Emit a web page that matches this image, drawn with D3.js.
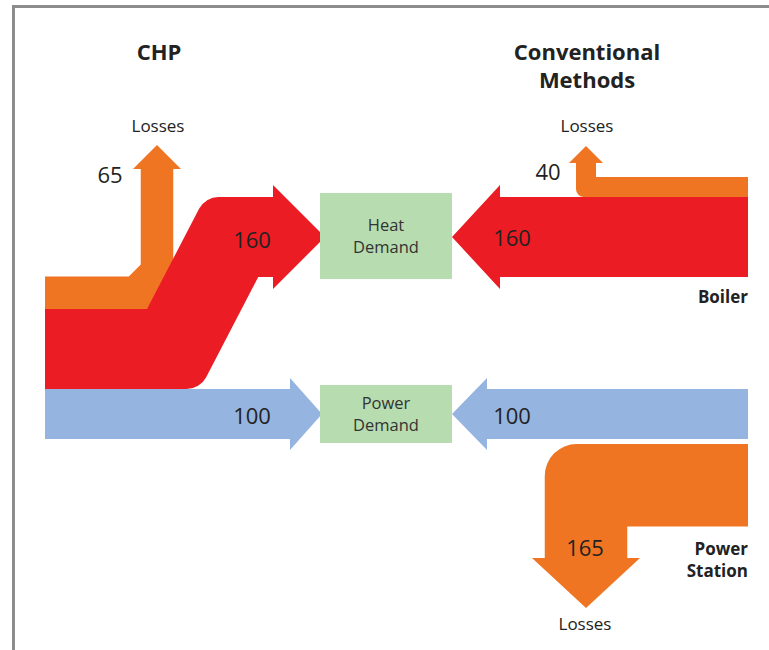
<!DOCTYPE html>
<html>
<head>
<meta charset="utf-8">
<script src="https://cdn.jsdelivr.net/npm/d3@7"></script>
<style>
body { margin: 0; background: #fff; }
svg text { font-family: 'Open Sans', Lato, sans-serif; }
</style>
</head>
<body>
<div id="graph"></div>
<script>
var titles = ['CHP', 'Conventional Methods']
var demandLabels = ['Heat Demand', 'Power Demand']
var chpLabels = ['Losses', 'Heat', 'Power']
var chpValues = [65, 160, 100]
var convLabels = ['Losses', 'Boiler', 'Power', 'Power Station']
var convValues = [40, 160, 100, 165]

var colors = { loss: '#f07522', heat: '#ec1c24', power: '#95b4df', box: '#b6dcb0' }

var svg = d3.select('#graph').append('svg')
	.attr('width', 769)
	.attr('height', 650)

// flow value -> band thickness
var w = d3.scaleLinear().domain([0, 160]).range([0, 80])

// frame
svg.append('path')
	.attr('d', 'M13.5,650V6.5H769')
	.attr('fill', 'none')
	.attr('stroke', '#8c8c8c')
	.attr('stroke-width', 3)

// polygon with optional rounded corners: [x, y, r]
function shape(pts) {
	var p = d3.path()
	p.moveTo(pts[0][0], pts[0][1])
	for (var i = 1; i < pts.length; i++) {
		var c = pts[i], n = pts[(i + 1) % pts.length]
		if (c[2]) p.arcTo(c[0], c[1], n[0], n[1], c[2])
		else p.lineTo(c[0], c[1])
	}
	p.closePath()
	return p.toString()
}

var x0 = 45, xR = 748
var heatTop = 197
var powerMid = 414

// ---------- CHP (left) ----------
var powerL = w(chpValues[2])
var heatL = w(chpValues[1])
var lossL = w(chpValues[0])
var bluTop = powerMid - powerL / 2
var redBot = bluTop, redTop = redBot - heatL
var orTop = redTop - lossL

// losses stem
var stemX = 157, headY = 169
svg.append('path')
	.attr('fill', colors.loss)
	.attr('d', shape([
		[x0, orTop], [stemX - lossL / 2 - 12, orTop], [stemX - lossL / 2, orTop - 12],
		[stemX - lossL / 2, headY], [stemX - 24, headY], [stemX, headY - 24], [stemX + 24, headY],
		[stemX + lossL / 2, headY], [stemX + lossL / 2, redTop], [x0, redTop]
	]))

// heat flow
var shift = redTop - heatTop
var slope = 0.52
var xa = 147, off = 53
var headBase = 273, tipX = 325
var heatBot = heatTop + heatL
svg.append('path')
	.attr('fill', colors.heat)
	.attr('d', shape([
		[x0, redTop], [xa, redTop], [xa + shift * slope, heatTop, 22],
		[headBase, heatTop], [headBase, heatTop - 12], [tipX, heatTop + heatL / 2],
		[headBase, heatBot + 12], [headBase, heatBot], [xa + off + shift * slope, heatBot],
		[xa + off, redBot, 22], [x0, redBot]
	]))

// power flow left
svg.append('path')
	.attr('fill', colors.power)
	.attr('d', shape([
		[x0, bluTop], [290, bluTop], [290, bluTop - 11], [322, powerMid],
		[290, bluTop + powerL + 11], [290, bluTop + powerL], [x0, bluTop + powerL]
	]))

// ---------- Conventional (right) ----------
var lossB = w(convValues[0])
var heatR = w(convValues[1])
var powerR = w(convValues[2])
var lossP = w(convValues[3])

// boiler losses
var stemB = 586, headB = 163
svg.append('path')
	.attr('fill', colors.loss)
	.attr('d', shape([
		[xR, heatTop - lossB], [stemB + lossB / 2, heatTop - lossB], [stemB + lossB / 2, headB],
		[stemB + 17, headB], [stemB, headB - 17], [stemB - 17, headB], [stemB - lossB / 2, headB],
		[stemB - lossB / 2, heatTop, 8], [xR, heatTop]
	]))

// boiler heat
svg.append('path')
	.attr('fill', colors.heat)
	.attr('d', shape([
		[xR, heatTop], [500, heatTop], [500, heatTop - 12], [452, heatTop + heatR / 2],
		[500, heatTop + heatR + 12], [500, heatTop + heatR], [xR, heatTop + heatR]
	]))

// power station
svg.append('path')
	.attr('fill', colors.power)
	.attr('d', shape([
		[xR, powerMid - powerR / 2], [487, powerMid - powerR / 2], [487, powerMid - powerR / 2 - 11],
		[452, powerMid], [487, powerMid + powerR / 2 + 11], [487, powerMid + powerR / 2],
		[xR, powerMid + powerR / 2]
	]))

// power station losses
var psTop = powerMid + powerR / 2 + 5, stemP = 586, headP = 558
svg.append('path')
	.attr('fill', colors.loss)
	.attr('d', shape([
		[xR, psTop], [stemP - lossP / 2, psTop, 32], [stemP - lossP / 2, headP],
		[stemP - 54, headP], [stemP, headP + 50], [stemP + 54, headP],
		[stemP + lossP / 2, headP], [stemP + lossP / 2, psTop + lossP], [xR, psTop + lossP]
	]))

// ---------- demand boxes ----------
var boxes = [
	{ label: demandLabels[0], y: 193, h: 86 },
	{ label: demandLabels[1], y: 385, h: 58 }
]
svg.selectAll('rect.box')
	.data(boxes)
	.enter().append('rect')
	.attr('class', 'box')
	.attr('x', 320).attr('width', 132)
	.attr('y', function(d) { return d.y })
	.attr('height', function(d) { return d.h })
	.attr('fill', colors.box)

boxes.forEach(function(d) {
	var words = d.label.split(' ')
	var cy = d.y + d.h / 2
	words.forEach(function(t, i) {
		svg.append('text')
			.attr('x', 386)
			.attr('y', cy + (i - 0.5) * 22 + 6)
			.attr('text-anchor', 'middle')
			.attr('font-size', 16.5)
			.attr('fill', '#333')
			.text(t)
	})
})

// ---------- labels ----------
function label(x, y, t, size, opts) {
	opts = opts || {}
	svg.append('text')
		.attr('x', x).attr('y', y)
		.attr('text-anchor', opts.anchor || 'middle')
		.attr('font-size', size)
		.attr('font-weight', opts.bold ? 'bold' : 'normal')
		.attr('fill', opts.fill || '#222')
		.text(t)
}

label(159, 60, titles[0], 22, { bold: true })
var t2 = titles[1].split(' ')
label(587, 60, t2[0], 22, { bold: true })
label(587, 88, t2[1], 22, { bold: true })

label(158, 132, chpLabels[0], 17)
label(110, 183, chpValues[0], 22)
label(252, 248, chpValues[1], 22)
label(252, 424, chpValues[2], 22)

label(587, 132, convLabels[0], 17)
label(548, 180, convValues[0], 22)
label(512, 246, convValues[1], 22)
label(512, 424, convValues[2], 22)
label(585, 556, convValues[3], 22)
label(585, 630, convLabels[0], 17)

label(748, 303, convLabels[1], 17, { bold: true, anchor: 'end' })
var ps = convLabels[3].split(' ')
label(748, 555, ps[0], 17, { bold: true, anchor: 'end' })
label(748, 577, ps[1], 17, { bold: true, anchor: 'end' })
</script>
</body>
</html>
